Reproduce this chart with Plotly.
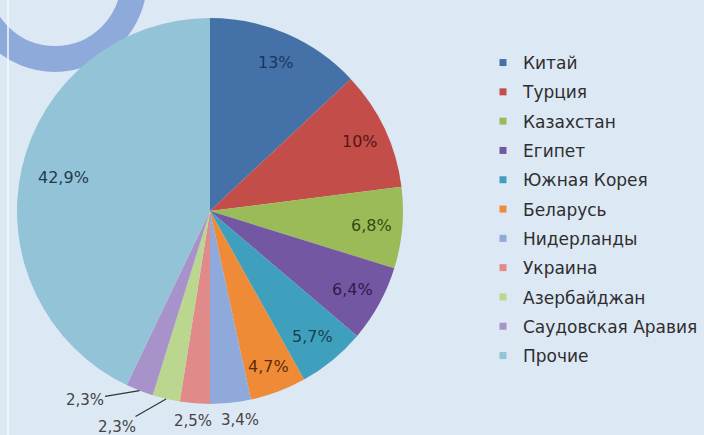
import math
import plotly.graph_objects as go

countries = ["Китай", "Турция", "Казахстан", "Египет", "Южная Корея", "Беларусь",
             "Нидерланды", "Украина", "Азербайджан", "Саудовская Аравия", "Прочие"]
shares = [13, 10, 6.8, 6.4, 5.7, 4.7, 3.4, 2.5, 2.3, 2.3, 42.9]

# styles
colors = ["#4472A8", "#C24D49", "#9BBB59", "#7457A2", "#3FA0BD", "#EF8B36",
          "#8EA9DA", "#E08A89", "#BBD68E", "#A792CA", "#93C3D7"]
label_colors = ["#1A3560", "#571613", "#354A12", "#2E1C4A", "#173F50", "#5E2C08",
                "#444444", "#444444", "#444444", "#444444", "#253A50"]
label_radius = [0.84, 0.84, 0.84, 0.84, 0.84, 0.86, 1.09, 1.09, 1.0, 1.0, 0.78]
label_dx = [2, 3, 0, 0, 0, 0, 8, 0, 0, 0, 0]
leader = [None, None, None, None, None, None, None, None, (-49, 28), (-55, 9), None]

W, H = 704, 435
CX, CY, R = 210, 211, 193          # pie centre / radius in pixels
FONT = "DejaVu Sans, Arial, sans-serif"

labels_txt = [f"{v:g}".replace(".", ",") + "%" for v in shares]

fig = go.Figure()
fig.add_trace(go.Pie(
    labels=countries, values=shares, textinfo="none",
    sort=False, direction="clockwise", rotation=0,
    marker=dict(colors=colors, line=dict(width=0)),
    showlegend=False, hoverinfo="label+percent",
    domain=dict(x=[(CX - R) / W, (CX + R) / W], y=[1 - (CY + R) / H, 1 - (CY - R) / H]),
))
for i, (name, col) in enumerate(zip(countries, colors)):
    fig.add_trace(go.Scatter(x=[None], y=[None], mode="markers", name=name,
                             legendgroup=str(i),
                             marker=dict(symbol="square", size=7, color=col)))

# data labels positioned from the cumulative shares
total = sum(shares)
annotations = []
cum = 0.0
for v, txt, col, rf, dx, ld in zip(shares, labels_txt, label_colors, label_radius,
                                   label_dx, leader):
    mid = (cum + v / 2) / total * 2 * math.pi
    cum += v
    px = CX + rf * R * math.sin(mid) + dx
    py = CY - rf * R * math.cos(mid)
    ann = dict(x=px / W, y=1 - py / H, xref="paper", yref="paper", text=txt,
               xanchor="center", yanchor="middle",
               font=dict(family=FONT, size=16 if rf < 1 else 15, color=col),
               showarrow=False)
    if ld is not None:
        ann.update(showarrow=True, ax=ld[0], ay=ld[1], arrowhead=0,
                   arrowwidth=1.2, arrowcolor="#333333", standoff=0, startstandoff=0)
    annotations.append(ann)

fig.update_layout(
    width=W, height=H, margin=dict(l=0, r=0, t=0, b=0),
    paper_bgcolor="#DDE8F5", plot_bgcolor="#DDE8F5",
    xaxis=dict(visible=False), yaxis=dict(visible=False),
    legend=dict(x=(523 - 40) / W, y=1 - 45 / H, xanchor="left", yanchor="top",
                font=dict(family=FONT, size=17, color="#2E2E2E"),
                tracegroupgap=4.2, bgcolor="rgba(0,0,0,0)", itemclick=False),
    annotations=annotations,
    shapes=[
        dict(type="circle", xref="paper", yref="paper", layer="below",
             x0=(55 - 79) / W, x1=(55 + 79) / W,
             y0=1 - (-20 + 79) / H, y1=1 - (-20 - 79) / H,
             line=dict(color="#8EAADB", width=26)),
        dict(type="line", xref="paper", yref="paper", layer="below",
             x0=8 / W, x1=8 / W, y0=0, y1=1,
             line=dict(color="#F4F8FC", width=1.5)),
    ],
)
fig.write_html("out.html", config={"displayModeBar": False},
               post_script="document.body.style.margin='0';document.body.style.overflow='hidden';")
